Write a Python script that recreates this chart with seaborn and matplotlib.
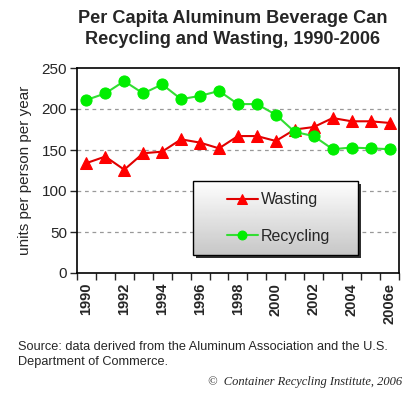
# Per capita aluminum can recycling vs. wasting, 1990-2006
import pandas as pd
import seaborn as sns
import matplotlib.pyplot as plt
import numpy as np
from matplotlib.patches import Rectangle

years = ['1990', '1991', '1992', '1993', '1994', '1995', '1996', '1997', '1998',
         '1999', '2000', '2001', '2002', '2003', '2004', '2005', '2006e']
wasting = [134, 142, 126, 146, 148, 163, 159, 152, 167, 167, 161, 175, 178, 189, 185, 185, 183]
recycling = [211, 219, 234, 219, 230, 212, 216, 222, 206, 206, 193, 172, 167, 151, 153, 152, 151]

df = pd.DataFrame({'year': years, 'Wasting': wasting, 'Recycling': recycling})
df['pos'] = np.arange(len(years))

sns.set_style("white")
plt.rcParams['font.family'] = ['Liberation Sans', 'DejaVu Sans']

fig = plt.figure(figsize=(4.2, 4.0), dpi=100)
ax = fig.add_axes([0.183, 0.3175, 0.767, 0.5125])

sns.lineplot(data=df, x='pos', y='Wasting', color='#e00000', marker='^', markersize=9,
             markeredgecolor='#ff0000', markerfacecolor='#ff0000', linewidth=1.5,
             label='Wasting', ax=ax)
sns.lineplot(data=df, x='pos', y='Recycling', color='#33dd33', marker='o', markersize=8,
             markeredgecolor='#00ee00', markerfacecolor='#00ee00', linewidth=1.5,
             label='Recycling', ax=ax)

ax.set_xlim(-0.5, len(years) - 0.5)
ax.set_ylim(0, 250)
ax.set_yticks([0, 50, 100, 150, 200, 250])
ax.tick_params(axis='y', labelsize=11, length=5, width=1, direction='out', left=True, pad=2)

# category labels every other year, tick marks between categories
ax.set_xticks(df['pos'][::2])
ax.set_xticklabels(df['year'][::2], rotation=90, fontsize=10.5, fontweight='bold')
ax.set_xticks(np.arange(len(years) + 1) - 0.5, minor=True)
ax.tick_params(axis='x', which='major', length=0, pad=7)
ax.tick_params(axis='x', which='minor', length=5, width=1, direction='out', bottom=True)

for v in [50, 100, 150, 200]:
    ax.axhline(v, color='#999999', linestyle=(0, (3, 3)), linewidth=0.9, zorder=0)

for s in ax.spines.values():
    s.set_color('black')
    s.set_linewidth(1.2)

ax.set_xlabel(None)
ax.set_ylabel("units per person per year", fontsize=11)
ax.yaxis.set_label_coords(-0.14, 0.5)

# legend box: shadow + white-to-grey gradient, like the old Excel chart
bx0, bx1, by0, by1 = 0.36, 0.873, 0.088, 0.449
dx, dy = 3 / 322, 3 / 205
ax.add_patch(Rectangle((bx0 + dx, by0 - dy), bx1 - bx0, by1 - by0, transform=ax.transAxes,
                       facecolor='#303030', edgecolor='none', zorder=4))
grad = np.linspace(1.0, 0.78, 64).reshape(-1, 1)
ax.imshow(grad, cmap='gray', vmin=0, vmax=1, aspect='auto', interpolation='bilinear',
          extent=(bx0, bx1, by0, by1), transform=ax.transAxes, zorder=5)
ax.add_patch(Rectangle((bx0, by0), bx1 - bx0, by1 - by0, transform=ax.transAxes,
                       facecolor='none', edgecolor='black', linewidth=1.0, zorder=6))
ax.set_xlim(-0.5, len(years) - 0.5)
ax.set_ylim(0, 250)

leg = ax.legend(loc='center', bbox_to_anchor=((bx0 + bx1) / 2 + 0.01, (by0 + by1) / 2), fontsize=11.5,
                frameon=False, labelspacing=1.35, handlelength=1.9, handletextpad=0.2,
                markerscale=0.8)
leg.set_zorder(7)

fig.text(0.554, 0.9275, "Per Capita Aluminum Beverage Can\nRecycling and Wasting, 1990-2006",
         ha='center', va='center', fontsize=13.1, fontweight='bold', linespacing=1.3)
fig.text(0.043, 0.114, "Source: data derived from the Aluminum Association and the U.S.\nDepartment of Commerce.",
         ha='left', va='center', fontsize=9.2, linespacing=1.25)
fig.text(0.957, 0.045, "\u00a9  Container Recycling Institute, 2006",
         ha='right', va='center', fontsize=9.0, style='italic', family=['Liberation Serif', 'DejaVu Serif'])

fig.savefig('out.png', dpi=100, facecolor='white')
